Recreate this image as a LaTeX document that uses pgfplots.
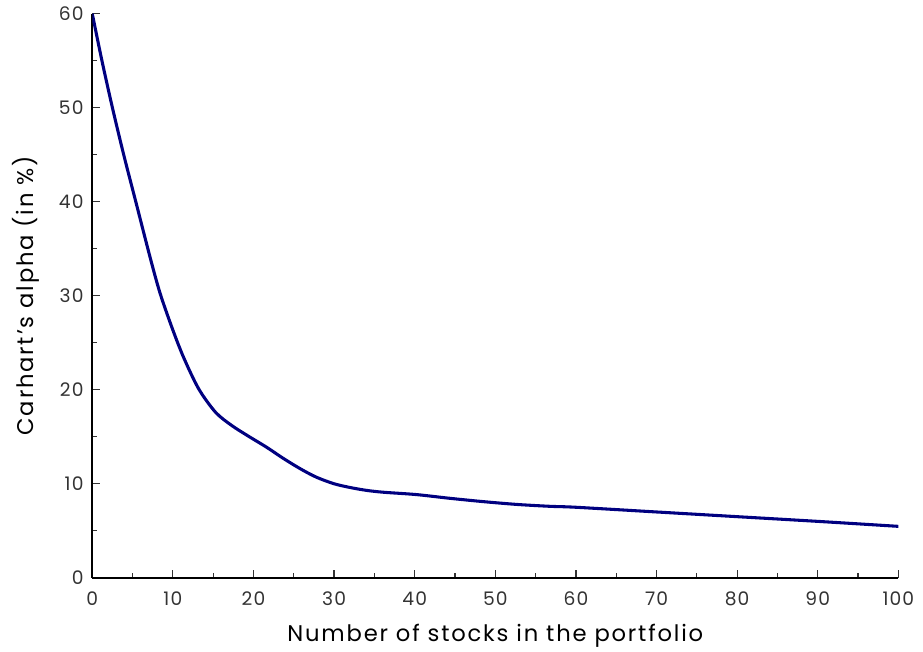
\documentclass[border=0pt]{standalone}
\usepackage{fontspec}
\setmainfont{Poppins}
\usepackage{pgfplots}
\pgfplotsset{compat=1.18}

\definecolor{curve}{RGB}{0,0,128}

\begin{document}
\begin{tikzpicture}
  \begin{axis}[
    scale only axis,
    width=604.5pt, height=423pt,
    xmin=0, xmax=100, ymin=0, ymax=60,
    axis x line=bottom, axis y line=left,
    axis line style={-, line width=1.5pt},
    xtick={0,10,...,100}, ytick={0,10,...,60},
    minor x tick num=1, minor y tick num=1,
    tick align=inside,
    major tick length=6pt, minor tick length=3.5pt,
    tick style={line width=0.9pt, black!80},
    /pgf/number format/assume math mode=true,
    ticklabel style={font=\fontsize{14}{16}\selectfont\addfontfeatures{LetterSpace=6}, text=black!80},
    xticklabel style={yshift=-7pt},
    yticklabel style={xshift=-3pt},
    xlabel={Number of stocks in the portfolio},
    ylabel={Carhart's alpha (in \%)},
    label style={font=\fontsize{17}{19}\selectfont\addfontfeatures{LetterSpace=8}},
    xlabel style={yshift=-7pt},
    ylabel style={yshift=8pt},
  ]
    \addplot[curve, line width=2.3pt, smooth, tension=0.5] coordinates {
      (0,60) (1.2,55) (2.5,50) (3.9,45) (5.4,40) (7.2,34) (8.4,30.3)
      (9.85,26.7) (11.3,23.5) (13.2,20.1) (15.3,17.6) (17.3,16.2)
      (19.3,15.1) (21.6,13.9) (23.7,12.7) (25.8,11.6)
      (27.8,10.7) (30,10.0) (32,9.6) (34,9.3) (36.1,9.1) (40.2,8.85) (44.4,8.45)
      (48.5,8.1) (52.7,7.8) (56.8,7.6) (60,7.5) (70,7.0) (80,6.5)
      (90,6.0) (100,5.47)
    };
  \end{axis}
  \pgfresetboundingbox
  \path (current axis.south west) ++(-69.2pt,-55pt) coordinate (bl);
  \path (current axis.north east) ++(18.5pt,10.3pt) coordinate (tr);
  \path (bl) rectangle (tr);
\end{tikzpicture}
\end{document}
